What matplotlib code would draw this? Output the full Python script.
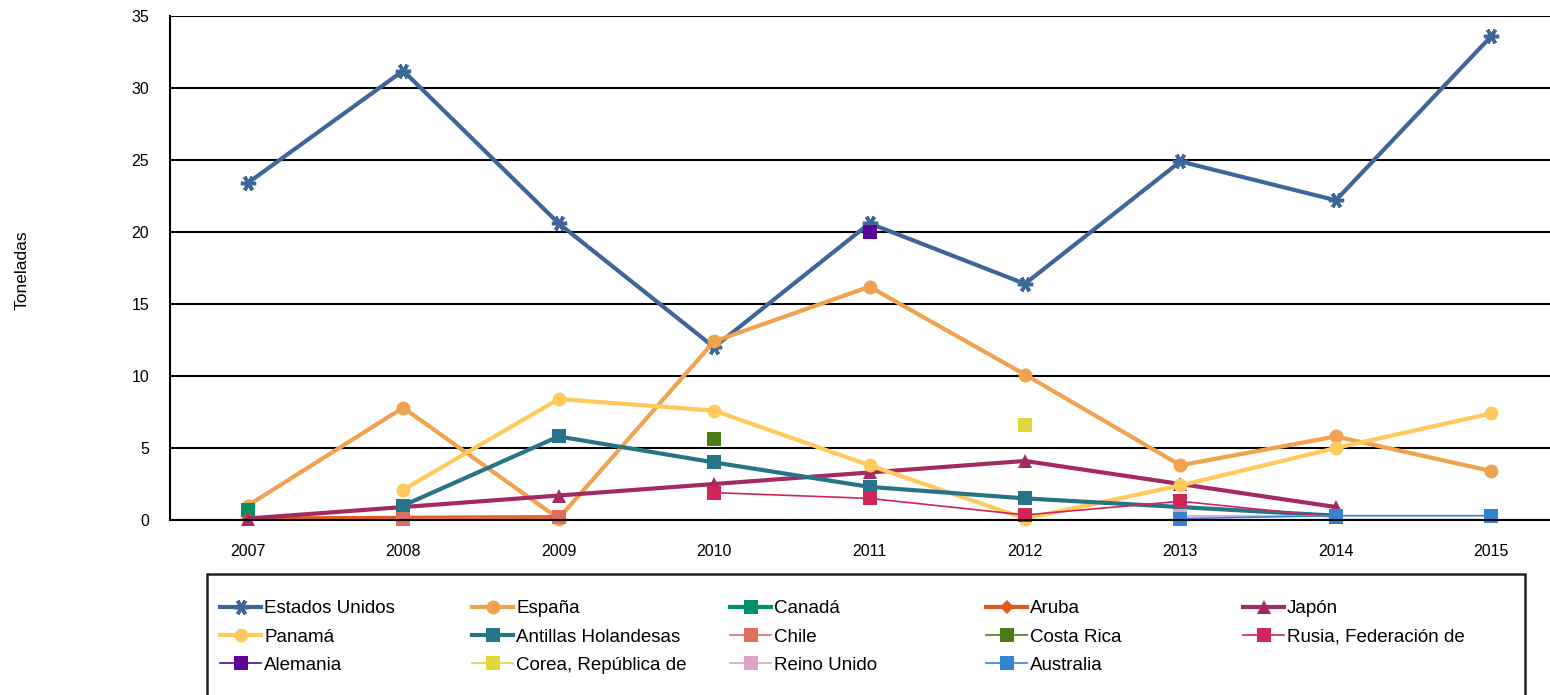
import matplotlib.pyplot as plt
import matplotlib.patches as mpatches
import numpy as np

plt.rcParams['font.family'] = ['Liberation Sans', 'DejaVu Sans']

years = [2007, 2008, 2009, 2010, 2011, 2012, 2013, 2014, 2015]
nan = np.nan

# toneladas por país y año
estados_unidos = [23.4, 31.2, 20.6, 12.0, 20.6, 16.4, 24.9, 22.2, 33.6]
espana = [1.0, 7.8, 0.1, 12.4, 16.2, 10.1, 3.8, 5.8, 3.4]
canada = [0.7, nan, nan, nan, nan, nan, nan, nan, nan]
aruba = [0.1, 0.15, 0.2, nan, nan, nan, nan, nan, nan]
japon = [0.1, 0.9, 1.7, 2.5, 3.3, 4.1, 2.5, 0.9, nan]
panama = [nan, 2.1, 8.4, 7.6, 3.8, 0.1, 2.4, 5.0, 7.4]
antillas = [nan, 1.0, 5.8, 4.0, 2.3, 1.5, 0.9, 0.3, nan]
chile = [nan, 0.1, 0.2, nan, nan, nan, nan, nan, nan]
costa_rica = [nan, nan, nan, 5.6, nan, nan, nan, nan, nan]
rusia = [nan, nan, nan, 1.9, 1.5, 0.35, 1.3, 0.2, nan]
alemania = [nan, nan, nan, nan, 20.0, nan, nan, nan, nan]
corea = [nan, nan, nan, nan, nan, 6.6, nan, nan, nan]
reino_unido = [nan, nan, nan, nan, nan, nan, 0.3, 0.3, nan]
australia = [nan, nan, nan, nan, nan, nan, 0.1, 0.3, 0.3]

# (label, values, color, marker, markersize, linewidth)
series = [
    ('Estados Unidos', estados_unidos, '#3D6699', (6, 2, 90), 11, 3),
    ('España', espana, '#F0A24E', 'o', 10, 3),
    ('Canadá', canada, '#00916A', 's', 10, 3),
    ('Aruba', aruba, '#E05A1C', 'D', 7, 3),
    ('Japón', japon, '#A32A62', '^', 10, 3),
    ('Panamá', panama, '#FFC95C', 'o', 10, 3),
    ('Antillas Holandesas', antillas, '#277489', 's', 10, 3),
    ('Chile', chile, '#DE6E5E', 's', 10, 1.2),
    ('Costa Rica', costa_rica, '#4A7B15', 's', 10, 1.2),
    ('Rusia, Federación de', rusia, '#CF2558', 's', 10, 1.2),
    ('Alemania', alemania, '#5C0399', 's', 10, 1.2),
    ('Corea, República de', corea, '#E3D63B', 's', 10, 1.2),
    ('Reino Unido', reino_unido, '#DDA2C9', 's', 10, 1.2),
    ('Australia', australia, '#3584D2', 's', 10, 1.2),
]

fig = plt.figure(figsize=(15.5, 6.95), dpi=100)
ax = fig.add_axes([170 / 1550, 1 - 520 / 695, 1399 / 1550, 504 / 695])

handles = {}
for label, vals, color, marker, ms, lw in series:
    mew = 2.5 if label == 'Estados Unidos' else 0
    h, = ax.plot(years, vals, color=color, marker=marker, markersize=ms,
                 linewidth=lw, markeredgewidth=mew, markeredgecolor=color,
                 label=label, clip_on=False)
    handles[label] = h

ax.set_xlim(2006.5, 2015.5)
ax.set_ylim(0, 35)
ax.set_yticks(range(0, 36, 5))
ax.set_xticks(years)
ax.grid(axis='y', color='black', linewidth=1.5)
ax.set_axisbelow(True)
for s in ['top', 'right']:
    ax.spines[s].set_visible(False)
ax.spines['left'].set_linewidth(1.5)
ax.spines['bottom'].set_linewidth(1.5)
ax.tick_params(length=0, labelsize=11.5, pad=17)
ax.tick_params(axis='y', pad=15)
fig.text(22 / 1550, 1 - 270 / 695, 'Toneladas', rotation=90, fontsize=12.5,
         ha='center', va='center')

# marco de la leyenda
fig.patches.append(mpatches.Rectangle((207 / 1550, -0.05), (1525 - 207) / 1550,
                                      (695 - 574) / 695 + 0.05, transform=fig.transFigure,
                                      fill=False, edgecolor='#222222', linewidth=1.8))

columns = [['Estados Unidos', 'Panamá', 'Alemania'],
           ['España', 'Antillas Holandesas', 'Corea, República de'],
           ['Canadá', 'Chile', 'Reino Unido'],
           ['Aruba', 'Costa Rica', 'Australia'],
           ['Japón', 'Rusia, Federación de']]
col_x = [220, 472, 730, 986, 1243]
for cx, col in zip(col_x, columns):
    fig.legend([handles[k] for k in col], col, frameon=False,
               loc='upper left', bbox_to_anchor=(cx / 1550, 1 - 600 / 695),
               fontsize=13.5, handlelength=2.2, handletextpad=0.15,
               labelspacing=0.6, borderaxespad=0, borderpad=0)

fig.savefig('out.png', dpi=100)
